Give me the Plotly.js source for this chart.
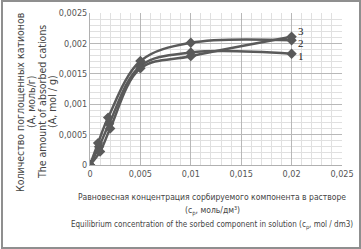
<!DOCTYPE html>
<html><head><meta charset="utf-8">
<script src="https://cdn.plot.ly/plotly-3.0.1.min.js"></script>
<style>
body{margin:0;padding:0;background:#fff;}
#wrap{position:relative;width:361px;height:249px;}
#chart{width:361px;height:249px;}
#frame{position:absolute;left:1px;top:0px;width:356px;height:245px;border:2px solid #8f8f8f;pointer-events:none;}
</style></head>
<body><div id="wrap"><div id="chart"></div><div id="frame"></div></div>
<script>
const x1 = [0, 0.0009, 0.0019, 0.005, 0.01, 0.02];
const y1 = [0, 0.00030, 0.00068, 0.00163, 0.00185, 0.00183];
const x2 = [0, 0.0008, 0.0018, 0.005, 0.01, 0.02];
const y2 = [0, 0.00036, 0.00078, 0.00171, 0.00201, 0.00205];
const x3 = [0, 0.0010, 0.0020, 0.005, 0.01, 0.02];
const y3 = [0, 0.00022, 0.00060, 0.00159, 0.00179, 0.00211];
const seriesLabels = ['1', '2', '3'];
const xTicks = [0, 0.005, 0.01, 0.015, 0.02, 0.025];
const xTickText = ['0', '0,005', '0,01', '0,015', '0,02', '0,025'];
const yTicks = [0, 0.0005, 0.001, 0.0015, 0.002, 0.0025];
const yTickText = ['0', '0,0005', '0,001', '0,0015', '0,002', '0,0025'];
const yTitleLines = ['Количество поглощенных катионов', '(А, моль/г)', 'The amount of absorbed cations', '(A, mol / g)'];
const xTitleLines = ['Равновесная концентрация сорбируемого компонента в растворе', '(c<sub>р</sub>, моль/дм³)', 'Equilibrium concentration of the sorbed component in solution (c<sub>р</sub>, mol / dm3)'];

const FONT = 'DejaVu Sans Condensed, Liberation Sans Narrow, Arial Narrow, sans-serif';
const col = '#5a5a5a';
function tr(x, y) {
  return {x: x, y: y, type: 'scatter', mode: 'lines+markers',
    line: {color: col, width: 2.5, shape: 'spline', smoothing: 1},
    marker: {symbol: 'diamond', size: 8, color: col}, showlegend: false, hoverinfo: 'none'};
}
const data = [tr(x1, y1), tr(x2, y2), tr(x3, y3)];
const labelY = [0.00179, 0.00200, 0.00220];
const annotations = [];
for (let i = 0; i < 3; i++) {
  annotations.push({x: x1[5], y: labelY[i], xref: 'x', yref: 'y', text: seriesLabels[i], showarrow: false,
    xanchor: 'left', xshift: 4, font: {family: 'Liberation Serif, serif', size: 11, color: '#222'}});
}
const yPos = [20, 31, 42, 52];
for (let i = 0; i < 4; i++) {
  annotations.push({xref: 'paper', yref: 'paper', x: (yPos[i] - 90) / 252, y: (165 - 102) / 152,
    text: yTitleLines[i], textangle: -90, showarrow: false, xanchor: 'center', yanchor: 'middle',
    font: {family: FONT, size: 10.5, color: '#444'}});
}
const xPosY = [197, 211, 225];
const xSizes = [8.5, 8.5, 8];
for (let i = 0; i < 3; i++) {
  annotations.push({xref: 'paper', yref: 'paper', x: (212 - 90) / 252, y: (165 - xPosY[i]) / 152,
    text: xTitleLines[i], showarrow: false, xanchor: 'center', yanchor: 'middle',
    font: {family: FONT, size: xSizes[i], color: '#444'}});
}

const layout = {
  width: 361, height: 249,
  margin: {l: 90, r: 19, t: 13, b: 84},
  paper_bgcolor: '#fff', plot_bgcolor: '#fff',
  xaxis: {range: [0, 0.025], tickvals: xTicks, ticktext: xTickText, showgrid: true, gridcolor: '#b8b8b8', gridwidth: 1,
    minor: {dtick: 0.001, showgrid: true, gridcolor: '#e0e0e0', gridwidth: 1},
    zeroline: false, showline: true, linecolor: '#b0b0b0', ticks: '',
    tickfont: {family: FONT, size: 9, color: '#555'}, fixedrange: true},
  yaxis: {range: [0, 0.0025], tickvals: yTicks, ticktext: yTickText, showgrid: true, gridcolor: '#b8b8b8', gridwidth: 1,
    minor: {dtick: 0.0001, showgrid: true, gridcolor: '#e0e0e0', gridwidth: 1},
    zeroline: false, showline: true, linecolor: '#b0b0b0', ticks: '',
    tickfont: {family: FONT, size: 9, color: '#555'}, fixedrange: true},
  annotations: annotations
};
Plotly.newPlot('chart', data, layout, {displayModeBar: false, staticPlot: true});
</script></body></html>
